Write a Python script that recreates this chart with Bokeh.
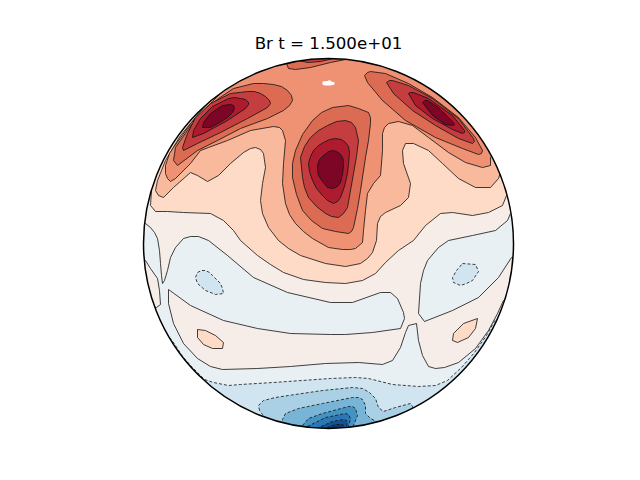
from bokeh.plotting import figure
from bokeh.models import Range1d
from bokeh.embed import file_html
from bokeh.resources import INLINE

title_text = "Br t = 1.500e+01"
disc_x, disc_y, disc_r = [328], [243], [185]

# Contour bands, in the chart's plane coordinates.
band_A = [(166,333),(173,342),(182,356),(192,367),(204,379),(213,382),(228,385),(240,384),(273,382),(330,378),(355,377),(368,378),(392,384),(418,386),(435,385),(447,380),(461,367),(474,352),(486,335),(495,319),(520,320),(520,436),(136,436),(136,333)]
band_A2 = [(259,410),(258,405),(263,400),(275,397),(288,395),(322,390),(352,387),(362,388),(369,392),(375,398),(378,407),(383,411),(395,407),(410,403),(412,406),(420,436),(270,436),(262,414)]
band_A3 = [(282,425),(282,419),(285,413),(298,408),(322,403),(352,397),(358,397),(362,399),(365,405),(365,413),(370,418),(378,422),(370,436),(290,436)]
band_A4 = [(302,425),(308,418),(322,413),(348,406),(352,406),(355,408),(357,415),(353,425),(340,436),(310,436)]
band_A5 = [(307,426),(325,417),(345,413),(348,414),(350,418),(348,426),(340,436),(315,436)]
band_A6 = [(316,428),(332,421),(343,419),(346,420),(347,423),(345,429),(335,436),(320,436)]
band_A7 = [(322,429),(335,424),(342,424),(345,429),(335,436),(325,436)]
islet_left_blue = [(197,272),(201,270),(205,270),(209,272),(212,275),(220,283),(222,288),(223,293),(215,294),(205,290),(197,283),(195,277)]
islet_right_blue = [(462,263),(475,264),(478,271),(472,280),(466,283),(460,285),(453,282),(452,277),(456,270)]

band_C = [(145,223),(136,223),(136,54),(520,54),(520,310),(503,300),(497,313),(488,330),(475,348),(458,362),(444,367),(435,368),(428,366),(422,355),(418,340),(416,323),(408,325),(405,332),(400,347),(392,360),(382,364),(358,362),(325,363),(290,366),(257,368),(222,369),(210,366),(197,358),(183,343),(173,323),(168,303),(168,289),(190,305),(223,320),(257,328),(290,333),(330,334),(345,334),(372,332),(400,328),(404,318),(403,312),(397,298),(390,292),(380,292),(352,302),(330,302),(287,292),(253,277),(227,255),(208,240),(198,236),(190,236),(183,238),(175,247),(170,257),(167,270),(164,280),(162,283),(161,275),(160,263),(159,250),(157,238),(154,232),(150,227)]
wedge_left = [(136,260),(145,260),(150,268),(157,278),(159,290),(160,304),(156,307),(136,307)]
notch_right = [(418,313),(420,283),(423,270),(427,260),(438,247),(448,240),(472,235),(495,230),(507,220),(510,213),(520,213),(520,257),(511,257),(498,277),(478,297),(452,310),(424,321)]
islet_left_peach = [(197,329),(205,330),(215,335),(223,342),(222,348),(212,348),(203,344),(197,337)]
islet_right_peach = [(477,318),(475,328),(468,337),(457,342),(452,340),(453,333),(463,323)]

band_D = [(136,190),(151,190),(150,205),(155,211),(167,211),(183,212),(210,213),(223,220),(233,230),(240,240),(257,255),(270,264),(283,272),(303,279),(325,282),(345,283),(362,280),(375,273),(385,262),(398,250),(413,240),(425,225),(440,213),(452,212),(472,215),(488,212),(502,205),(506,195),(520,190),(520,54),(136,54)]
band_E = [(212,97),(199,112),(180,135),(165,160),(157,180),(155,190),(158,195),(163,197),(173,187),(190,172),(197,175),(207,181),(218,175),(230,163),(243,152),(250,148),(255,147),(260,149),(263,153),(265,167),(262,183),(260,200),(262,213),(268,227),(278,240),(288,248),(300,255),(325,263),(345,266),(360,263),(367,258),(372,252),(376,240),(377,223),(380,216),(385,212),(400,205),(408,197),(410,183),(403,163),(402,150),(405,143),(413,143),(428,150),(442,163),(458,178),(475,187),(490,187),(498,178),(500,172),(520,170),(520,54),(200,54)]
band_F = [(226,87),(212,101),(191,122),(173,147),(169,153),(165,165),(165,173),(167,178),(170,181),(175,178),(190,163),(200,150),(208,147),(227,140),(250,130),(273,126),(279,127),(282,130),(285,140),(283,163),(282,183),(285,203),(289,214),(295,223),(303,231),(312,238),(328,247),(342,249),(350,249),(355,248),(362,242),(363,230),(365,210),(367,193),(373,183),(380,175),(382,150),(382,133),(384,127),(388,123),(398,121),(412,125),(428,137),(448,152),(465,162),(482,167),(490,165),(490,157),(495,150),(520,150),(520,54),(226,54)]

lobe_G_left = [(173,160),(177,165),(197,150),(217,140),(240,128),(267,118),(283,110),(289,105),(292,100),(291,95),(287,90),(281,86),(273,84),(263,83),(253,83),(233,88),(218,98),(205,109),(191,124),(175,147)]
lobe_H_left = [(183,150),(197,143),(220,132),(247,118),(267,107),(270,103),(269,100),(265,96),(260,93),(254,91),(247,91),(230,93),(210,103),(195,117),(187,133),(182,147)]
lobe_I_left = [(192,137),(203,133),(227,120),(245,108),(248,104),(248,102),(245,99),(240,98),(234,97),(228,98),(212,106),(200,118),(193,130)]
lobe_J_left = [(202,127),(210,127),(219,122),(227,117),(232,112),(234,108),(233,105),(230,104),(222,105),(210,113),(203,122)]

lobe_G_right = [(364,75),(367,72),(370,71),(385,73),(408,83),(432,97),(458,117),(475,137),(482,150),(481,153),(478,154),(462,148),(435,137),(405,120),(382,100),(367,82)]
lobe_H_right = [(386,82),(389,80),(392,80),(408,85),(432,98),(458,118),(473,138),(474,141),(472,143),(458,138),(435,125),(412,110),(393,93)]
lobe_I_right = [(408,93),(410,92),(413,92),(428,98),(452,115),(464,130),(464,132),(462,133),(452,129),(432,118),(415,105)]
lobe_J_right = [(422,102),(424,100),(427,100),(438,107),(453,122),(454,124),(453,125),(445,124),(432,115)]

lobe_G_mid = [(348,105),(358,108),(368,112),(370,117),(370,123),(368,140),(365,157),(360,190),(357,208),(353,227),(351,231),(348,233),(335,231),(322,228),(311,220),(302,210),(296,194),(292,177),(292,163),(295,150),(302,134),(312,120),(321,112),(332,107)]
lobe_H_mid = [(345,120),(351,122),(355,127),(358,140),(356,156),(353,173),(347,207),(343,213),(338,217),(331,216),(325,213),(316,206),(308,197),(304,187),(302,177),(300,157),(304,146),(310,137),(318,130),(327,125),(336,121)]
lobe_I_mid = [(335,138),(341,139),(345,142),(348,146),(349,152),(348,163),(347,173),(344,186),(340,197),(337,201),(333,203),(327,200),(322,195),(316,188),(312,180),(309,171),(308,163),(310,156),(313,150),(318,145),(323,142),(329,139)]
lobe_J_mid = [(333,150),(338,152),(341,155),(343,160),(343,165),(342,174),(340,182),(337,186),(333,188),(327,187),(322,181),(318,175),(317,170),(317,165),(319,159),(323,155),(328,151)]

cap_G = [(286,63),(288,68),(295,69),(310,67),(330,62),(350,58),(350,54),(285,54)]
cap_H = [(298,60),(307,62),(320,61),(333,58),(333,54),(298,54)]
gap_white = [(322,81),(327,80.5),(329,79.5),(331,81),(334,82),(334,84),(330,85),(324,85),(322,84)]

colour_A, colour_A2, colour_A3, colour_A4 = "#d1e5f0", "#a9d0e4", "#77b4d6", "#4393c3"
colour_A5, colour_A6, colour_A7 = "#2c76b3", "#175290", "#0a3a70"
colour_B, colour_C, colour_D, colour_E = "#e8f0f4", "#f7ede8", "#fddbc7", "#f8b99c"
colour_F, colour_G, colour_H, colour_I, colour_J = "#ef9273", "#dc6b54", "#c53e3f", "#ae1a2e", "#7d0525"

p = figure(width=632, height=472, frame_width=392, frame_height=388,
           min_border_left=132, min_border_right=108, min_border_top=52, min_border_bottom=32,
           x_range=Range1d(132, 524), y_range=Range1d(440, 52),
           output_backend="svg", toolbar_location=None, title=title_text)
p.axis.visible = False
p.grid.visible = False
p.outline_line_color = None
p.title.align = "center"
p.title.text_font = "DejaVu Sans"
p.title.text_font_style = "normal"
p.title.text_font_size = "16.67px"
p.title.text_color = "black"
p.title.standoff = 0

def draw(poly, colour, dash="solid", line=True):
    p.patch([q[0] for q in poly], [q[1] for q in poly], fill_color=colour,
            line_color="#111111" if line else None, line_width=0.8, line_dash=dash, line_join="round")

p.circle(disc_x, disc_y, radius=disc_r[0], fill_color=colour_B, line_color=None)
neg = "3 2"
draw(band_A, colour_A, neg)
draw(band_A2, colour_A2, neg)
draw(band_A3, colour_A3, neg)
draw(band_A4, colour_A4, neg)
draw(band_A5, colour_A5, neg)
draw(band_A6, colour_A6, neg)
draw(band_A7, colour_A7, neg)
draw(band_C, colour_C)
draw(wedge_left, colour_C)
draw(notch_right, colour_B)
draw(islet_left_blue, colour_A, neg)
draw(islet_right_blue, colour_A, neg)
draw(islet_left_peach, colour_D)
draw(islet_right_peach, colour_D)
draw(band_D, colour_D)
draw(band_E, colour_E)
draw(band_F, colour_F)
for g, h, i, j in [(lobe_G_left, lobe_H_left, lobe_I_left, lobe_J_left),
                   (lobe_G_right, lobe_H_right, lobe_I_right, lobe_J_right),
                   (lobe_G_mid, lobe_H_mid, lobe_I_mid, lobe_J_mid)]:
    draw(g, colour_G); draw(h, colour_H); draw(i, colour_I); draw(j, colour_J)
draw(cap_G, colour_G)
draw(cap_H, colour_H)
draw(gap_white, "white", line=False)

p.annulus(disc_x, disc_y, inner_radius=disc_r[0], outer_radius=600, fill_color="white", line_color=None)
p.circle(disc_x, disc_y, radius=disc_r[0], fill_color=None, line_color="black", line_width=1.5)

open("out.html", "w").write(file_html(p, INLINE))
